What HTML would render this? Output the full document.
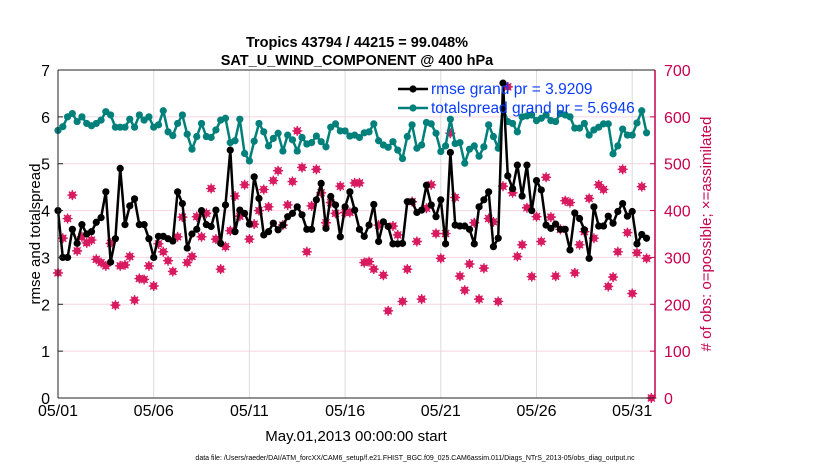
<!DOCTYPE html>
<html><head><meta charset="utf-8"><style>
body{margin:0;background:#fff;}
svg{display:block;font-family:"Liberation Sans",sans-serif;}
</style></head><body>
<svg id="chart" width="830" height="470" viewBox="0 0 830 470">
<g id="grid"></g>
<g id="series"></g>
<g id="axes"></g>
<text x="357" y="47" text-anchor="middle" font-size="14.5" font-weight="bold">Tropics 43794 / 44215 = 99.048%</text>
<text x="357" y="65" text-anchor="middle" font-size="14.5" font-weight="bold">SAT_U_WIND_COMPONENT @ 400 hPa</text>
<text transform="translate(40,234) rotate(-90)" text-anchor="middle" font-size="15">rmse and totalspread</text>
<text transform="translate(711,234) rotate(-90)" text-anchor="middle" font-size="15" fill="#c8004f"># of obs: o=possible; ×=assimilated</text>
<text x="356" y="441" text-anchor="middle" font-size="15">May.01,2013 00:00:00 start</text>
<text x="415" y="460" text-anchor="middle" font-size="7">data file: /Users/raeder/DAI/ATM_forcXX/CAM6_setup/f.e21.FHIST_BGC.f09_025.CAM6assim.011/Diags_NTrS_2013-05/obs_diag_output.nc</text>
<g id="legend"></g>
</svg>
<script>
const xTickLabels=["05/01","05/06","05/11","05/16","05/21","05/26","05/31"];
const xTickDays=[0,5,10,15,20,25,30];
const yTicks=[0,1,2,3,4,5,6,7];
const y2Ticks=[0,100,200,300,400,500,600,700];
const rmse=[4.0,3.0,3.0,3.6,3.3,3.7,3.5,3.55,3.75,3.85,4.4,2.9,3.4,4.9,3.7,4.1,4.25,3.7,3.7,3.4,3.0,3.45,3.45,3.4,3.35,4.4,4.15,3.2,3.5,3.6,4.0,3.7,
3.66,4.01,3.30,4.12,5.29,3.55,4.01,3.94,3.71,4.72,4.26,3.48,3.55,3.73,3.59,3.69,3.87,3.94,4.08,3.91,3.60,3.60,4.23,4.58,3.62,4.30,4.12,3.44,4.08,4.40,
4.01,3.60,3.45,3.69,4.13,3.34,3.76,3.66,3.29,3.29,3.30,4.19,4.19,3.96,4.01,4.54,4.12,3.87,4.23,3.29,5.24,3.69,3.67,3.67,3.60,3.29,4.08,4.23,4.40,3.23,
3.41,6.72,4.74,4.47,4.97,4.31,4.97,4.00,4.64,4.44,3.69,3.62,3.71,3.60,3.60,3.16,3.95,3.83,3.59,2.98,4.08,3.67,3.67,3.88,3.73,3.98,4.15,3.88,3.98,3.29,3.49,3.41];
const spread=[5.71,5.79,6.00,6.07,5.90,6.00,5.86,5.81,5.86,5.93,6.11,6.04,5.78,5.78,5.78,5.95,5.78,6.04,5.93,6.00,5.78,5.83,6.13,5.68,5.60,5.86,6.04,5.63,5.31,5.58,5.86,5.58,
5.56,5.72,5.93,5.97,5.45,5.49,5.95,5.22,5.06,5.48,5.86,5.68,5.38,5.54,5.65,5.27,5.61,5.51,5.27,5.56,5.42,5.45,5.59,5.47,5.36,5.78,5.85,5.70,5.70,5.59,
5.61,5.56,5.66,5.68,5.85,5.49,5.40,5.35,5.47,5.29,5.11,5.58,5.83,5.33,5.40,5.88,5.85,5.65,5.26,5.38,5.95,5.43,5.45,5.01,5.31,5.38,5.16,5.36,5.83,5.58,
5.33,6.20,5.90,5.86,5.68,6.00,6.02,6.04,5.92,5.97,6.04,5.92,5.90,6.07,6.04,6.00,5.76,5.76,5.86,5.61,5.72,5.78,5.85,5.85,5.21,5.38,5.74,5.61,5.61,5.87,6.13,5.66];
const obs=[267,341,383,433,314,344,331,337,296,289,282,330,198,282,284,302,209,255,253,282,239,329,312,293,270,344,386,289,302,387,344,394,
447,339,275,323,357,431,388,455,339,371,400,445,408,464,485,369,412,462,570,492,312,410,488,438,374,417,394,452,396,396,
459,459,289,291,275,369,262,186,367,348,206,275,419,334,211,405,455,351,298,351,565,428,260,230,286,374,211,277,383,376,
206,452,664,438,302,327,406,259,387,334,471,386,260,360,421,417,267,327,355,426,341,455,445,238,258,312,488,353,223,310,451,298,0];
const NS="http://www.w3.org/2000/svg";
const L=58,R=655,T=70,B=398,DAY=19.14;
const xs=d=>L+d*DAY;
const ys=v=>B-(v/7)*(B-T);
const y2s=v=>B-(v/700)*(B-T);
function mk(tag,attrs,parent){const e=document.createElementNS(NS,tag);for(const k in attrs)e.setAttribute(k,attrs[k]);parent.appendChild(e);return e;}
const grid=document.getElementById('grid'),axes=document.getElementById('axes'),ser=document.getElementById('series'),leg=document.getElementById('legend');
yTicks.forEach(v=>{if(v>0&&v<7){const g=mk('line',{x1:L,x2:R,y1:ys(v),y2:ys(v),stroke:'#f6d3e0','stroke-width':1},grid);}
 const t=mk('text',{x:L-8,y:ys(v)+6,'text-anchor':'end','font-size':16},axes);t.textContent=v;
 mk('line',{x1:L,x2:L+5,y1:ys(v),y2:ys(v),stroke:'#222'},axes);});
xTickDays.forEach((d,i)=>{const g=mk('line',{x1:xs(d),x2:xs(d),y1:T,y2:B,stroke:'#dcdcdc'},grid);
 const t=mk('text',{x:xs(d),y:416,'text-anchor':'middle','font-size':16},axes);t.textContent=xTickLabels[i];});
y2Ticks.forEach(v=>{mk('line',{x1:R-5,x2:R,y1:y2s(v),y2:y2s(v),stroke:'#c8004f'},axes);
 const t=mk('text',{x:R+9,y:y2s(v)+6,'font-size':16,fill:'#c8004f'},axes);t.textContent=v;});
mk('line',{x1:L,x2:R,y1:T,y2:T,stroke:'#222'},axes);
mk('line',{x1:L,x2:R,y1:B,y2:B,stroke:'#222'},axes);
mk('line',{x1:L,x2:L,y1:T,y2:B,stroke:'#222'},axes);
mk('line',{x1:R,x2:R,y1:T,y2:B,stroke:'#c8004f','stroke-width':1.5},axes);
// obs markers
obs.forEach((v,i)=>{const x=Math.min(xs(i*0.25),R),y=y2s(v);
 const g=mk('g',{},ser);
 mk('circle',{cx:x,cy:y,r:3.6,fill:'#d81b60'},g);
 mk('path',{d:`M${x-5} ${y}H${x+5}M${x} ${y-5}V${y+5}M${x-3.5} ${y-3.5}L${x+3.5} ${y+3.5}M${x-3.5} ${y+3.5}L${x+3.5} ${y-3.5}`,stroke:'#d81b60','stroke-width':1.4},g);});
function line(arr,color,name){const pts=arr.map((v,i)=>xs(i*0.25).toFixed(1)+','+ys(v).toFixed(1)).join(' ');
 const p=mk('polyline',{points:pts,fill:'none',stroke:color,'stroke-width':2.5,'stroke-linejoin':'round'},ser);
 arr.forEach((v,i)=>{const c=mk('circle',{cx:xs(i*0.25),cy:ys(v),r:3.6,fill:color},ser);});}
line(spread,'#00807a','spread');
line(rmse,'#000','rmse');
// legend
[['rmse grand pr = 3.9209','#000',89],['totalspread grand pr = 5.6946','#00807a',108]].forEach(([txt,c,y])=>{
 const g=mk('g',{},leg);
 mk('line',{x1:398,x2:428,y1:y,y2:y,stroke:c,'stroke-width':2.5},g);
 mk('circle',{cx:413,cy:y,r:3.6,fill:c},g);
 const t=mk('text',{x:431,y:y+5,'font-size':15.5,fill:'#0a3cff'},g);t.textContent=txt;});
</script>
</body></html>
